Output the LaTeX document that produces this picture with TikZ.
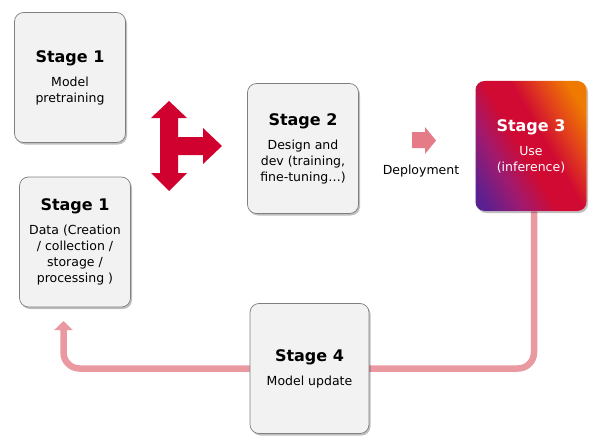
\documentclass[tikz,border=0pt]{standalone}
\usepackage{fontspec}
\setmainfont{DejaVu Sans}
\usetikzlibrary{arrows.meta,shadows,backgrounds}

\definecolor{boxgray}{HTML}{F2F2F2}
\definecolor{boxline}{HTML}{7F7F7F}
\definecolor{hubred}{HTML}{D0002F}
\definecolor{loopred}{HTML}{EA99A0}
\definecolor{deployred}{HTML}{E57B86}
\definecolor{gpurple}{HTML}{5A2090}
\definecolor{gmagenta}{HTML}{A01A6E}
\definecolor{gcrimson}{HTML}{D00A32}
\definecolor{gred}{HTML}{E2401C}
\definecolor{gorange}{HTML}{EE7A00}
\pgfdeclarehorizontalshading{usegrad}{100bp}{color(0bp)=(gpurple); color(20bp)=(gpurple); color(34bp)=(gmagenta); color(46bp)=(gcrimson); color(56bp)=(gcrimson); color(66bp)=(gred); color(77bp)=(gorange); color(100bp)=(gorange)}
\newcommand{\stagetxt}[2]{{\fontsize{16}{19}\selectfont\bfseries #1}\\[8pt]#2}

\begin{document}
\begin{tikzpicture}[x=1pt,y=-1pt,
stagebox/.style={draw=boxline,line width=0.7pt,fill=boxgray,rounded corners=9pt,
 minimum width=111pt,minimum height=130pt,align=center,inner sep=2pt,
 font=\fontsize{12.5}{16}\selectfont,
 drop shadow={shadow xshift=1.5pt,shadow yshift=-2pt,opacity=0.25,fill=black}},
usebox/.style={stagebox,draw=none,shading=usegrad,shading angle=30,text=white},
feedback/.style={draw=loopred,line width=6.5pt,rounded corners=16pt,
 -{Triangle[width=18pt,length=9pt]}}]
 \useasboundingbox (0,0) rectangle (600,444);

 \node[stagebox] (pretrain) at (70,77.5) {\stagetxt{Stage 1}{Model\\pretraining}};
 \node[stagebox] (data) at (75,242) {\stagetxt{Stage 1}{Data (Creation\\/ collection /\\storage /\\processing )}};
 \node[stagebox] (design) at (303,148.5) {\stagetxt{Stage 2}{Design and\\dev (training,\\fine-tuning…)}};
 \node[usebox] (use) at (531,146) {\stagetxt{Stage 3}{Use\\(inference)}};
 \node[stagebox,minimum width=119pt] (update) at (309.5,368.5) {\stagetxt{Stage 4}{Model update}};

 % hub arrow between stage 1 and stage 2
 \fill[hubred] (169,101) -- (187,118) -- (178,118) -- (178,137) -- (203,137)
 -- (203,128) -- (222,146) -- (203,164) -- (203,155) -- (178,155) -- (178,173)
 -- (187,173) -- (169,191) -- (151,173) -- (160,173) -- (160,118) -- (151,118) -- cycle;

 % deployment
 \fill[deployred] (412,132) -- (425,132) -- (425,127) -- (436,140.5) -- (425,154)
 -- (425,148) -- (412,148) -- cycle;
 \node[font=\fontsize{12.5}{15}\selectfont] (deplabel) at (421,171) {Deployment};

 % loop back
 \coordinate (back) at (63.5,321);
 \begin{scope}[on background layer]
 \draw[feedback] ([xshift=3pt]use.south) |- (update.center) -| (back);
 \end{scope}
\end{tikzpicture}
\end{document}
